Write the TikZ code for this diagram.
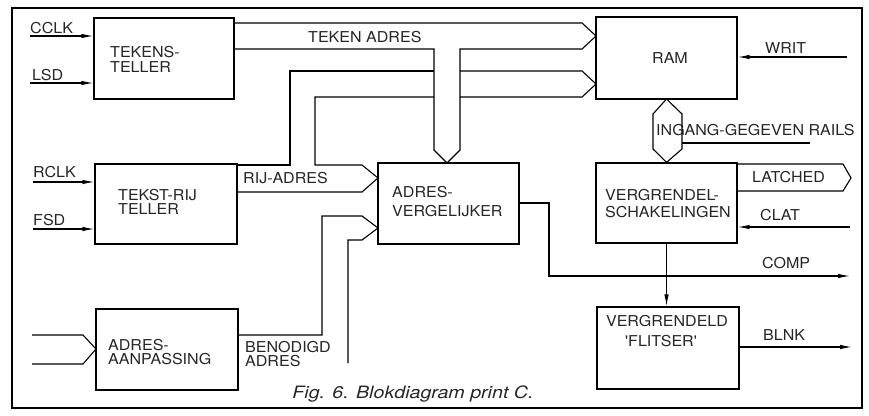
\documentclass[tikz,border=0pt]{standalone}
\usepackage{fontspec}
\newfontfamily\lab{TeX Gyre Heros}[FakeStretch=1.07]
\usetikzlibrary{arrows.meta}
\begin{document}
\begin{tikzpicture}[x=1pt,y=-1pt,
  box/.style={draw, line width=1.3pt, inner sep=0pt},
  wire/.style={line width=1.1pt, line join=miter},
  arr/.style={line width=1.1pt, -{Latex[length=12pt,width=4.5pt]}},
  txt/.style={font=\lab\fontsize{15}{16}\selectfont, inner sep=0pt, text=black!85},
  tl/.style={txt, anchor=base west},
  tc/.style={txt, anchor=base},
]
\useasboundingbox (0,0) rectangle (869,415);
\draw[line width=2.8pt] (12,8) rectangle (862,408);

% boxes
\node[box, minimum width=140pt, minimum height=81pt] (tt) at (164,58.5) {};
\node[box, minimum width=141pt, minimum height=82pt] (ram) at (666.5,58) {};
\node[box, minimum width=142pt, minimum height=80pt] (tr) at (166,204) {};
\node[box, minimum width=141pt, minimum height=81pt] (av) at (448.5,203.5) {};
\node[box, minimum width=141pt, minimum height=80pt] (vs) at (666.5,203) {};
\node[box, minimum width=142pt, minimum height=81pt] (aa) at (167,349.5) {};
\node[box, minimum width=142pt, minimum height=82pt] (vf) at (668,348) {};

% box texts
\node[tl] (tt1) at (110,57) {TEKENS-};
\node[tl] (tt2) at (110,72) {TELLER};
\node[tc] (ram1) at (670,63) {RAM};
\node[tl] (tr1) at (118,200) {TEKST-RIJ};
\node[tl] (tr2) at (118,214.5) {TELLER};
\node[tl] (av1) at (392,197) {ADRES-};
\node[tl] (av2) at (392,216) {VERGELIJKER};
\node[tl] (vs1) at (605,200) {VERGRENDEL-};
\node[tl] (vs2) at (605,217) {SCHAKELINGEN};
\node[tl] (aa1) at (108,350.5) {ADRES-};
\node[tl] (aa2) at (108,364) {AANPASSING};
\node[tc] (vf1) at (667,326) {VERGRENDELD};
\node[tc] (vf2) at (661,346) {'FLITSER'};

% signal labels
\node[tl] (lcclk) at (30,33) {CCLK};
\node[tl] (llsd) at (32,80) {LSD};
\node[tl] (lrclk) at (33,177) {RCLK};
\node[tl] (lfsd) at (33,225) {FSD};
\node[tl] (lta) at (308,42) {TEKEN ADRES};
\node[tl] (lra) at (243,183) {RIJ-ADRES};
\node[tl] (lba1) at (245,352.5) {BENODIGD};
\node[tl] (lba2) at (245,366) {ADRES};
\node[tl] (lwrit) at (765,53) {WRIT};
\node[tl] (ligr) at (656,135) {INGANG-GEGEVEN RAILS};
\node[tl] (llat) at (752,182) {LATCHED};
\node[tl] (lclat) at (760,220) {CLAT};
\node[tl] (lcomp) at (762,268) {COMP};
\node[tl] (lblnk) at (763,340) {BLNK};
\node[anchor=base, inner sep=0pt, text=black!85] (cap) at (413,398)
  {\scalebox{1.08}[1]{\lab\itshape\fontsize{17}{18}\selectfont Fig. 6. Blokdiagram print C.}};

% free ends
\coordinate (cclk) at (30,36);
\coordinate (lsd) at (30,83);
\coordinate (rclk) at (33,182);
\coordinate (fsd) at (33,229);
\coordinate (writ) at (847,57);
\coordinate (clat) at (850,227);
\coordinate (comp) at (850,276);
\coordinate (blnk) at (852,347);

% single signal arrows
\draw[arr] (cclk) -- (cclk -| tt.west);
\draw[arr] (lsd) -- (lsd -| tt.west);
\draw[arr] (rclk) -- (rclk -| tr.west);
\draw[arr] (fsd) -- (fsd -| tr.west);
\draw[arr] (writ) -- (writ -| ram.east);
\draw[arr] (clat) -- (clat -| vs.east);
\draw[arr] (blnk -| vf.east) -- (blnk);
\draw[arr] (av.east |- 0,203) -- (549,203) -- (549,276) -- (comp);
\draw[arr] (vs.south) -- (vs.south |- vf.north);

% TEKEN ADRES bus (tekensteller -> RAM, branch to adresvergelijker)
\coordinate (tipRA) at (596,36);
\coordinate (tipAVt) at (447,163);
\draw[wire] (tt.east |- 0,23) -- (582,23) -- (tipRA) -- (582,49) -- (460,49) -- (460,150)
  -- (tipAVt) -- (434,150) -- (434,49) -- (tt.east |- 0,49);

% RIJ-ADRES bus (tekst-rij teller -> adresvergelijker, branch to RAM)
\coordinate (tipRB) at (596,84);
\coordinate (tipAVa) at (378,178);
\draw[wire] (tr.east |- 0,165) -- (290,165) -- (290,71) -- (434,71);
\draw[wire] (460,71) -- (582,71) -- (tipRB) -- (582,97) -- (460,97);
\draw[wire] (434,97) -- (315,97) -- (315,165) -- (362,165) -- (tipAVa) -- (362,192) -- (tr.east |- 0,192);

% BENODIGD ADRES bus
\coordinate (tipAVb) at (378,228);
\draw[wire] (aa.east |- 0,335) -- (322,335) -- (322,216) -- (362,216) -- (tipAVb)
  -- (362,240) -- (348,240) -- (348,363);

% inputs of adres-aanpassing
\coordinate (aain1) at (32,335);
\coordinate (aain2) at (32,364);
\coordinate (tipAA) at (96,349);
\draw[wire] (aain1) -- (83,335) -- (tipAA) -- (83,364) -- (aain2);

% bidirectional data rails RAM <-> vergrendel-schakelingen
\coordinate (rails) at (810,143);
\draw[wire] (ram.south |- 0,99) -- (682,114) -- (682,149) -- (vs.north) -- (653,149) -- (653,114) -- cycle;
\draw[wire] (682,143) -- (rails);

% LATCHED output bus
\coordinate (tipL) at (851,178);
\draw[wire] (vs.east |- 0,164) -- (843,164) -- (tipL) -- (843,191) -- (vs.east |- 0,191);
\end{tikzpicture}
\end{document}
